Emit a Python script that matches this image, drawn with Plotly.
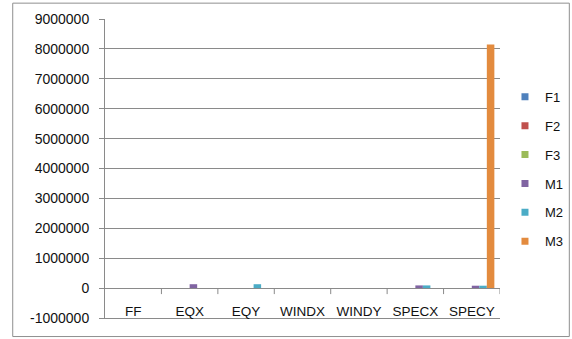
import plotly.graph_objects as go

categories = ["FF", "EQX", "EQY", "WINDX", "WINDY", "SPECX", "SPECY"]
series_names = ["F1", "F2", "F3", "M1", "M2", "M3"]
F1 = [0, 0, 0, 0, 0, 0, 0]
F2 = [0, 0, 0, 0, 0, 0, 0]
F3 = [0, 0, 0, 0, 0, 0, 0]
M1 = [0, 130000, 0, 0, 0, 90000, 80000]
M2 = [0, 0, 130000, 0, 0, 90000, 80000]
M3 = [0, 0, 0, 0, 0, 0, 8150000]
colors = ["#4F81BD", "#C0504D", "#9BBB59", "#8064A2", "#4BACC6", "#E38B3E"]
y_tickvals = [-1000000, 0, 1000000, 2000000, 3000000, 4000000, 5000000,
              6000000, 7000000, 8000000, 9000000]
y_ticktext = [str(v) for v in y_tickvals]

values = [F1, F2, F3, M1, M2, M3]
FONT = "Liberation Sans"
GRID = "#8a8a8a"

fig = go.Figure()
for name, vals, col in zip(series_names, values, colors):
    fig.add_trace(go.Bar(x=categories, y=vals, name=name, marker_color=col,
                         marker_line_width=0, showlegend=False))
for name, col in zip(series_names, colors):
    fig.add_trace(go.Scatter(x=[None], y=[None], mode="markers", name=name,
                             legendgroup=name,
                             marker=dict(symbol="square", size=7, color=col)))

# category boundary ticks on the zero line
for i in range(1, len(categories) + 1):
    fig.add_shape(type="line", xref="x", yref="y", x0=i - 0.5, x1=i - 0.5,
                  ysizemode="pixel", yanchor=0, y0=0, y1=-6,
                  line=dict(color=GRID, width=1))

# outer chart border
fig.add_shape(type="rect", xref="paper", yref="paper",
              x0=-0.2336, x1=1.1755, y0=-0.062, y1=1.053,
              line=dict(color="#8f8f8f", width=1), fillcolor="rgba(0,0,0,0)",
              layer="below")

fig.update_layout(
    width=572, height=339,
    margin=dict(l=104.5, r=71.5, t=18.5, b=20.5, autoexpand=False),
    paper_bgcolor="white", plot_bgcolor="white",
    barmode="group", bargap=0.2, bargroupgap=0,
    font=dict(family=FONT, size=13, color="#111111"),
    showlegend=True,
    legend=dict(x=1.0126, xanchor="left", y=0.79, yanchor="top",
                font=dict(family=FONT, size=13, color="#111111"),
                tracegroupgap=9, itemwidth=30, bgcolor="rgba(0,0,0,0)"),
    xaxis=dict(range=[-0.5, 6.5], showgrid=False, showline=True,
               linecolor=GRID, linewidth=1, ticks="",
               ticklabelstandoff=-19, tickfont=dict(size=13.5),
               zeroline=False),
    yaxis=dict(range=[-1000000, 9000000], tickvals=y_tickvals,
               ticktext=y_ticktext, showgrid=True, gridcolor=GRID,
               gridwidth=1, showline=True, linecolor=GRID, linewidth=1,
               ticks="outside", ticklen=5, tickcolor=GRID,
               ticklabelstandoff=7, zeroline=True, zerolinecolor=GRID,
               zerolinewidth=1, tickfont=dict(size=14)),
)

fig.write_html("out.html", config={"displayModeBar": False},
               post_script="document.body.style.margin='0';")
